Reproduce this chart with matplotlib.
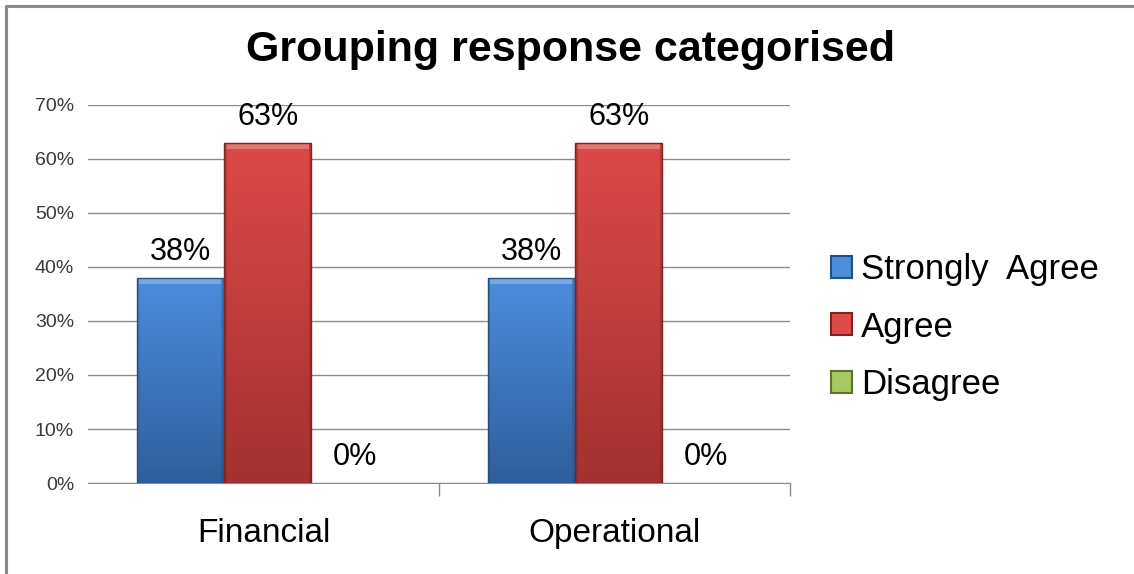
import numpy as np
import matplotlib
matplotlib.use("Agg")
import matplotlib.pyplot as plt
from matplotlib.colors import LinearSegmentedColormap
from matplotlib.patches import Rectangle
from matplotlib.lines import Line2D

plt.rcParams["font.family"] = ["Liberation Sans", "DejaVu Sans"]

# Data
categories = ["Financial", "Operational"]
series_names = ["Strongly  Agree", "Agree", "Disagree"]
strongly_agree = [0.38, 0.38]
agree = [0.63, 0.63]
disagree = [0.0, 0.0]
y_ticks = [0.0, 0.1, 0.2, 0.3, 0.4, 0.5, 0.6, 0.7]
y_tick_labels = ["0%", "10%", "20%", "30%", "40%", "50%", "60%", "70%"]

series_values = [strongly_agree, agree, disagree]
# (top colour, bottom colour, edge colour) for the bevelled fill
palette = [
    ("#4c8ddc", "#2f5f9c", "#274f82"),
    ("#dd4a48", "#a33130", "#7c2322"),
    ("#a8c862", "#76923c", "#5c7230"),
]

W, H = 1134, 574
fig = plt.figure(figsize=(W / 100, H / 100), dpi=100)
ax = fig.add_axes([88 / W, 1 - 483 / H, 702 / W, 378 / H])

x = np.arange(len(categories))
bw = 0.249
shift = 0.012
offsets = [-bw + shift, shift, bw + shift]

for vals, off, (ctop, cbot, cedge) in zip(series_values, offsets, palette):
    bars = ax.bar(x + off, vals, bw, color=cbot, edgecolor=cedge,
                  linewidth=0, zorder=3)
    cmap = LinearSegmentedColormap.from_list("bev", [cbot, ctop])
    for b in bars:
        h = b.get_height()
        if h > 0:
            grad = np.linspace(0, 1, 256).reshape(-1, 1)
            im = ax.imshow(grad, extent=[b.get_x(), b.get_x() + b.get_width(), 0, h],
                           origin="lower", aspect="auto", cmap=cmap, zorder=3.1,
                           interpolation="bicubic")
            im.set_clip_path(b)
            # light bevel along the top edge, darker along the sides
            ax.add_patch(Rectangle((b.get_x() + 0.006, h - 0.012), b.get_width() - 0.012, 0.010,
                                   facecolor="white", alpha=0.25, lw=0, zorder=3.2))
            for sx in (b.get_x(), b.get_x() + b.get_width() - 0.008):
                ax.add_patch(Rectangle((sx, 0), 0.008, h, facecolor=cedge,
                                       alpha=0.35, lw=0, zorder=3.2))
            ax.add_patch(Rectangle((b.get_x(), 0), b.get_width(), h, facecolor="none",
                                   edgecolor=cedge, lw=1.0, zorder=3.3))
        ax.annotate(f"{h * 100:.0f}%", (b.get_x() + b.get_width() / 2, h),
                    xytext=(0, 8), textcoords="offset points",
                    ha="center", va="bottom", fontsize=22, color="black", zorder=4)

ax.set_xlim(-0.5, 1.5)
ax.set_ylim(0, 0.7)
ax.set_yticks(y_ticks)
ax.set_yticklabels(y_tick_labels, fontsize=14, color="#3a3a3a")
ax.tick_params(axis="y", length=0, pad=10)
ax.yaxis.grid(True, color="#8c8c8c", lw=1.0)
ax.set_axisbelow(True)

ax.set_xticks(x)
ax.set_xticklabels(categories, fontsize=24)
ax.set_xticks([0.5, 1.5], minor=True)
ax.tick_params(axis="x", which="major", length=0, pad=25)
ax.tick_params(axis="x", which="minor", length=9, color="#8c8c8c", width=1)

for s in ["left", "right", "top"]:
    ax.spines[s].set_visible(False)
ax.spines["bottom"].set_color("#8c8c8c")

handles = [Rectangle((0, 0), 1, 1, facecolor=c[0], edgecolor=c[2], lw=1.5) for c in palette]
fig.legend(handles, series_names, loc="center left",
           bbox_to_anchor=(800 / W, 1 - 327 / H), frameon=False, fontsize=25,
           handlelength=0.6, handleheight=0.6, handletextpad=0.25, labelspacing=0.7)

fig.text(571 / W, 1 - 50 / H, "Grouping response categorised", ha="center", va="center",
         fontsize=31, fontweight="bold")

fig.add_artist(Line2D([6 / W, 6 / W, 1], [0, 1 - 6 / H, 1 - 6 / H],
                      transform=fig.transFigure, color="#8c8c8c", lw=2.2))

fig.savefig("out.png", dpi=100, facecolor="white")
